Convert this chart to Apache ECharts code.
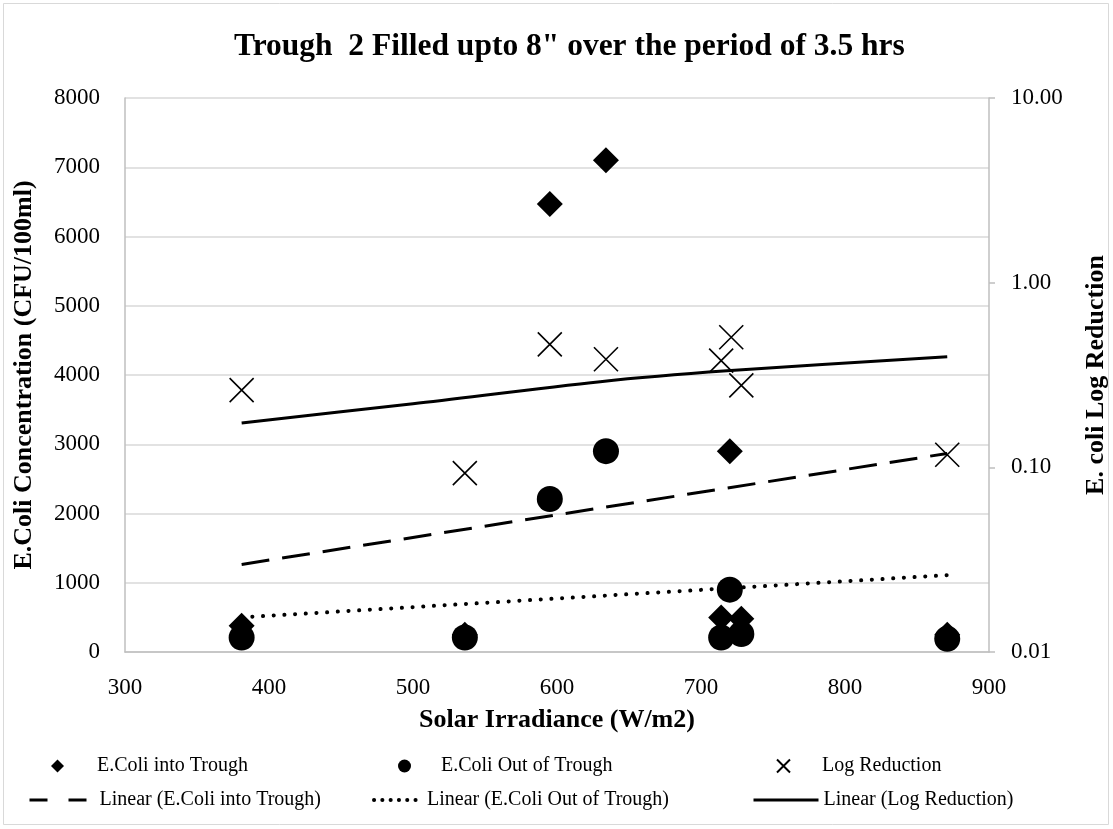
<!DOCTYPE html>
<html>
<head>
<meta charset="utf-8">
<script src="https://cdn.jsdelivr.net/npm/echarts@6/dist/echarts.min.js"></script>
<style>
html,body{margin:0;padding:0;background:#fff;}
#chart{width:1113px;height:829px;}
</style>
</head>
<body>
<div id="chart"></div>
<script>
// ---- Data ----
var titleText = 'Trough  2 Filled upto 8" over the period of 3.5 hrs';
var irradiance = [381, 536, 595, 634, 714, 720, 728, 871];
var ecoliIn    = [380, 250, 6470, 7100, 500, 2900, 480, 250];
var ecoliOut   = [210, 210, 2210, 2900, 210, 900, 260, 190];
var logIrr     = [381, 536, 595, 634, 714, 721, 728, 871];
var logRed     = [0.262, 0.093, 0.463, 0.385, 0.378, 0.506, 0.278, 0.117];

var trendInX   = [381, 871];
var trendInY   = [1265, 2867];
var trendOutX  = [381, 871];
var trendOutY  = [500, 1110];
var trendLogX  = [381, 500, 630, 718, 871];
var trendLogY  = [0.174, 0.221, 0.291, 0.333, 0.397];

var xTicks = [300, 400, 500, 600, 700, 800, 900];
var leftTicks = [0, 1000, 2000, 3000, 4000, 5000, 6000, 7000, 8000];
var rightTicks = [0.01, 0.1, 1, 10];

var names = ['E.Coli into Trough', 'E.Coli Out of Trough', 'Log Reduction',
  'Linear (E.Coli into Trough)', 'Linear (E.Coli Out of Trough)', 'Linear (Log Reduction)'];

function zip(a, b) { return a.map(function (v, i) { return [v, b[i]]; }); }

var FONT = '"Liberation Serif", "Times New Roman", serif';
var GREY = '#bfbfbf';
var XPATH = 'path://M0,0L24,24M24,0L0,24';

function markerLegend(name, left, top, pad) {
  return {orient: 'horizontal', left: left, top: top, padding: 0, itemWidth: 13, itemHeight: 13,
    textStyle: {fontFamily: FONT, fontSize: 20, color: '#000', padding: [0, 0, 0, pad]},
    data: [name]};
}
function lineLegend(name, left, top, width, pad, lineStyle) {
  return {orient: 'horizontal', left: left, top: top, padding: 0, itemWidth: width, itemHeight: 12,
    textStyle: {fontFamily: FONT, fontSize: 20, color: '#000', padding: [0, 0, 0, pad]},
    data: [{name: name, itemStyle: {opacity: 0}, lineStyle: lineStyle}]};
}

var chart = echarts.init(document.getElementById('chart'), null, {renderer: 'canvas'});
var option = {
  animation: false,
  backgroundColor: '#fff',
  textStyle: {fontFamily: FONT},
  title: {
    text: titleText, left: 229, top: 26,
    textStyle: {fontFamily: FONT, fontSize: 31.5, fontWeight: 'bold', color: '#000'}
  },
  graphic: [{
    type: 'rect', shape: {x: 3.5, y: 3.5, width: 1105, height: 821},
    style: {fill: 'none', stroke: '#d9d9d9', lineWidth: 1}, silent: true
  }],
  grid: {left: 125, right: 124, top: 98, bottom: 177, containLabel: false, outerBoundsMode: 'none'},
  legend: [
    markerLegend(names[0], 51, 756, 28),
    markerLegend(names[1], 398, 756, 25),
    markerLegend(names[2], 776, 756, 27),
    lineLegend(names[3], 28, 790, 57, 8, {color: '#000', width: 3, type: [18, 21]}),
    lineLegend(names[4], 372, 790, 48, 0, {color: '#000', width: 4, type: [0.1, 8.2], cap: 'round'}),
    lineLegend(names[5], 752, 790, 65, 0, {color: '#000', width: 3, type: 'solid'})
  ],
  xAxis: {
    type: 'value', min: xTicks[0], max: xTicks[xTicks.length - 1], interval: 100,
    name: 'Solar Irradiance (W/m2)', nameLocation: 'middle', nameGap: 55,
    nameTextStyle: {fontFamily: FONT, fontSize: 26, fontWeight: 'bold', color: '#000'},
    axisLine: {show: true, lineStyle: {color: GREY, width: 1.5}},
    axisTick: {show: false},
    splitLine: {show: false},
    axisLabel: {fontFamily: FONT, fontSize: 23, color: '#000', margin: 24}
  },
  yAxis: [{
    type: 'value', min: leftTicks[0], max: leftTicks[leftTicks.length - 1], interval: 1000,
    name: 'E.Coli Concentration (CFU/100ml)', nameLocation: 'middle', nameGap: 88,
    nameTextStyle: {fontFamily: FONT, fontSize: 26, fontWeight: 'bold', color: '#000'},
    axisLine: {show: true, lineStyle: {color: GREY, width: 1.5}},
    axisTick: {show: false},
    splitLine: {show: true, lineStyle: {color: '#d9d9d9', width: 1.5}},
    axisLabel: {fontFamily: FONT, fontSize: 23, color: '#000', margin: 25,
      formatter: function (v) { return String(v); }}
  }, {
    type: 'log', logBase: 10, min: rightTicks[0], max: rightTicks[rightTicks.length - 1],
    position: 'right',
    name: 'E. coli Log Reduction', nameLocation: 'middle', nameGap: 94,
    nameRotate: 90,
    nameTextStyle: {fontFamily: FONT, fontSize: 26, fontWeight: 'bold', color: '#000'},
    axisLine: {show: true, lineStyle: {color: GREY, width: 1.5}},
    axisTick: {show: true, inside: false, length: 6, lineStyle: {color: GREY, width: 1.5}},
    splitLine: {show: false},
    axisLabel: {fontFamily: FONT, fontSize: 23, color: '#000', margin: 22,
      formatter: function (v) { return Number(v).toFixed(2); }}
  }],
  series: [
    {name: names[0], type: 'scatter', yAxisIndex: 0, symbol: 'diamond', symbolSize: 26,
     itemStyle: {color: '#000', opacity: 1}, data: zip(irradiance, ecoliIn), z: 3},
    {name: names[1], type: 'scatter', yAxisIndex: 0, symbol: 'circle', symbolSize: 26,
     itemStyle: {color: '#000', opacity: 1}, data: zip(irradiance, ecoliOut), z: 4},
    {name: names[2], type: 'scatter', yAxisIndex: 1, symbol: XPATH, symbolSize: 24,
     itemStyle: {color: 'rgba(0,0,0,0)', borderColor: '#000', borderWidth: 1.6, opacity: 1},
     data: zip(logIrr, logRed), z: 5},
    {name: names[3], type: 'line', yAxisIndex: 0, symbol: 'none',
     lineStyle: {color: '#000', width: 3, type: [28, 13]}, itemStyle: {color: '#000'},
     data: zip(trendInX, trendInY), z: 6},
    {name: names[4], type: 'line', yAxisIndex: 0, symbol: 'none',
     lineStyle: {color: '#000', width: 4, type: [0.1, 10.6], cap: 'round'}, itemStyle: {color: '#000'},
     data: zip(trendOutX, trendOutY), z: 6},
    {name: names[5], type: 'line', yAxisIndex: 1, symbol: 'none', smooth: 0.3,
     lineStyle: {color: '#000', width: 3}, itemStyle: {color: '#000'},
     data: zip(trendLogX, trendLogY), z: 6}
  ]
};
chart.setOption(option);
</script>
</body>
</html>
